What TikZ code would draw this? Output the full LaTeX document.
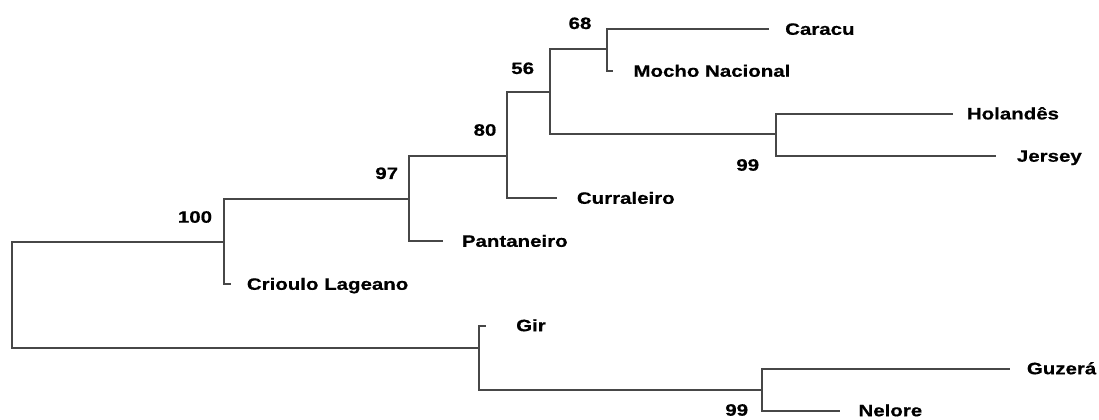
\documentclass[tikz,border=0pt]{standalone}
\usepackage{fontspec}
\newfontfamily\labfont{Liberation Sans}[FakeStretch=1.24,FakeBold=0.6]
\definecolor{branch}{HTML}{474747}
\begin{document}
\begin{tikzpicture}[x=1bp,y=-1bp,
  br/.style={draw=branch,line width=1.8bp},
  leaf/.style={anchor=base west,inner sep=0pt,font=\labfont\bfseries\fontsize{16.5bp}{18bp}\selectfont},
  boot/.style={anchor=center,inner sep=0pt,font=\labfont\bfseries\fontsize{16.5bp}{18bp}\selectfont}]
\useasboundingbox (0,0) rectangle (1099,419);
% internal junctions
\coordinate (root) at (12.3,294.7);
\coordinate (n100) at (224,241.7);
\coordinate (n97) at (409.3,199);
\coordinate (n80) at (506.7,156);
\coordinate (n56) at (550,92.3);
\coordinate (n68) at (606.7,49.3);
\coordinate (n99a) at (776,134.3);
\coordinate (nG) at (479,347.7);
\coordinate (n99b) at (761.7,390.3);
% leaf line ends
\coordinate (eCar) at (769.3,29);
\coordinate (eMoc) at (613.3,70.7);
\coordinate (eHol) at (953.3,114);
\coordinate (eJer) at (996,156);
\coordinate (eCur) at (556.7,198);
\coordinate (ePan) at (443.3,241);
\coordinate (eCri) at (231,284);
\coordinate (eGir) at (486,326);
\coordinate (eGuz) at (1010,369.3);
\coordinate (eNel) at (840,411);
% branches
\draw[br] (root) |- (n100);
\draw[br] (root) |- (nG);
\draw[br] (n100) |- (n97);
\draw[br] (n100) |- (eCri);
\draw[br] (n97) |- (n80);
\draw[br] (n97) |- (ePan);
\draw[br] (n80) |- (n56);
\draw[br] (n80) |- (eCur);
\draw[br] (n56) |- (n68);
\draw[br] (n56) |- (n99a);
\draw[br] (n68) |- (eCar);
\draw[br] (n68) |- (eMoc);
\draw[br] (n99a) |- (eHol);
\draw[br] (n99a) |- (eJer);
\draw[br] (nG) |- (eGir);
\draw[br] (nG) |- (n99b);
\draw[br] (n99b) |- (eGuz);
\draw[br] (n99b) |- (eNel);
% leaf labels
\node[leaf] (tCar) at (785,34.8) {Caracu};
\node[leaf] (tMoc) at (633.3,76.7) {Mocho Nacional};
\node[leaf] (tHol) at (966.7,119.4) {Holandês};
\node[leaf] (tJer) at (1016.7,161.7) {Jersey};
\node[leaf] (tCur) at (576.7,203.8) {Curraleiro};
\node[leaf] (tPan) at (461.7,246.8) {Pantaneiro};
\node[leaf] (tCri) at (246.7,289.8) {Crioulo Lageano};
\node[leaf] (tGir) at (516,331.2) {Gir};
\node[leaf] (tGuz) at (1026.7,374.2) {Guzerá};
\node[leaf] (tNel) at (858.3,416.2) {Nelore};
% bootstrap values
\node[boot] (b100) at (195,217) {100};
\node[boot] (b97) at (386.7,173.3) {97};
\node[boot] (b80) at (485,130) {80};
\node[boot] (b56) at (522.7,68.3) {56};
\node[boot] (b68) at (580,23.3) {68};
\node[boot] (b99a) at (747.7,165) {99};
\node[boot] (b99b) at (736.7,410) {99};
\end{tikzpicture}
\end{document}
